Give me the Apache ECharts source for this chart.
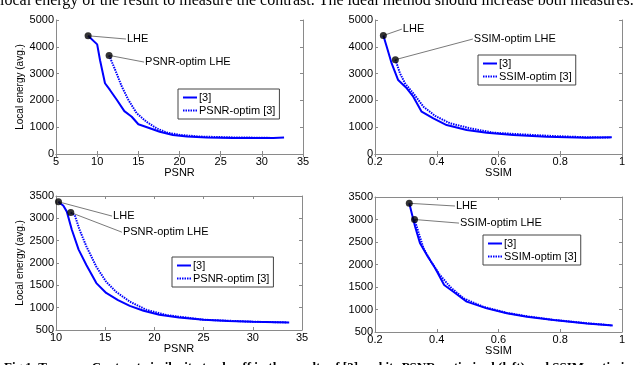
<!DOCTYPE html>
<html>
<head>
<meta charset="utf-8">
<script src="https://cdn.jsdelivr.net/npm/echarts@6/dist/echarts.min.js"></script>
<style>
  html, body { margin: 0; padding: 0; background: #fff; }
  #chart { width: 640px; height: 365px; }
</style>
</head>
<body>
<div id="chart"></div>
<script>
// top-left: PSNR vs local energy (image set 1)
const tlPsnr = [8.9, 10.0, 10.35, 10.95, 11.55, 12.4, 13.3, 14.2, 15.0, 16.4, 17.6, 19.2, 20.9, 23.3, 26.5, 31.4, 32.7]
const tlEnergy = [4410, 4090, 3500, 2640, 2390, 2015, 1600, 1390, 1110, 960, 830, 710, 650, 620, 600, 600, 615]
const tlOptPsnr = [11.45, 12.2, 13.0, 13.8, 14.8, 16.0, 17.2, 18.45, 20.1, 22.5, 26.5, 31.4]
const tlOptEnergy = [3680, 3130, 2510, 2015, 1520, 1200, 960, 800, 710, 650, 620, 600]

// top-right: SSIM vs local energy (image set 1)
const trSsim = [0.227, 0.238, 0.254, 0.275, 0.303, 0.324, 0.351, 0.389, 0.432, 0.497, 0.562, 0.648, 0.756, 0.886, 0.967]
const trEnergy = [4420, 4000, 3380, 2760, 2450, 2140, 1580, 1330, 1080, 895, 795, 710, 645, 610, 625]
const trOptSsim = [0.266, 0.281, 0.297, 0.324, 0.357, 0.395, 0.443, 0.508, 0.583, 0.67, 0.778, 0.886, 0.962]
const trOptEnergy = [3520, 3010, 2640, 2265, 1765, 1420, 1145, 960, 795, 735, 670, 625, 615]

// bottom-left: PSNR vs local energy (image set 2)
const blPsnr = [10.25, 10.75, 11.1, 11.6, 12.3, 13.1, 14.1, 15.1, 16.3, 17.5, 18.9, 20.5, 22.5, 25.0, 27.5, 30.0, 33.7]
const blEnergy = [3370, 3280, 3150, 2750, 2300, 1950, 1550, 1330, 1170, 1040, 930, 840, 780, 730, 700, 685, 670]
const blOptPsnr = [11.5, 11.9, 12.4, 13.1, 14.1, 15.1, 16.1, 17.5, 19.2, 21.2, 25.0, 30.0, 33.5]
const blOptEnergy = [3130, 3075, 2740, 2365, 1915, 1580, 1355, 1135, 950, 835, 730, 685, 670]

// bottom-right: SSIM vs local energy (image set 2)
const brSsim = [0.311, 0.319, 0.33, 0.346, 0.368, 0.395, 0.424, 0.454, 0.497, 0.562, 0.627, 0.692, 0.778, 0.886, 0.97]
const brEnergy = [3360, 3140, 2840, 2470, 2210, 1915, 1545, 1395, 1175, 1025, 915, 840, 765, 690, 645]
const brOptSsim = [0.328, 0.342, 0.357, 0.378, 0.41, 0.443, 0.486, 0.551, 0.627, 0.692, 0.778, 0.886, 0.965]
const brOptEnergy = [3000, 2690, 2360, 2100, 1770, 1505, 1250, 1060, 925, 850, 770, 695, 650]

// annotation anchors: [dotX, dotY, textX, textY]
const tlLheNote = [8.9, 4410, 13.5, 4290]
const tlOptNote = [11.45, 3680, 15.7, 3430]
const trLheNote = [0.227, 4420, 0.287, 4660]
const trOptNote = [0.266, 3520, 0.517, 4290]
const blLheNote = [10.25, 3370, 15.7, 3050]
const blOptNote = [11.5, 3130, 16.7, 2690]
const brLheNote = [0.311, 3360, 0.459, 3300]
const brOptNote = [0.328, 3000, 0.472, 2920]

const zip = (xs, ys) => xs.map((x, i) => [x, ys[i]])

const panels = [
  { grid: { left: 56, top: 20, width: 247, height: 134 }, x: [5, 35, 5], y: [0, 5000, 1000], xName: 'PSNR', yName: 'Local energy (avg.)',
    a: zip(tlPsnr, tlEnergy), b: zip(tlOptPsnr, tlOptEnergy), bName: 'PSNR-optim [3]',
    notes: [[tlLheNote, 'LHE'], [tlOptNote, 'PSNR-optim LHE']], legend: { left: 178, top: 89 } },
  { grid: { left: 375, top: 20, width: 247, height: 134 }, x: [0.2, 1, 0.2], y: [0, 5000, 1000], xName: 'SSIM', yName: '',
    a: zip(trSsim, trEnergy), b: zip(trOptSsim, trOptEnergy), bName: 'SSIM-optim [3]',
    notes: [[trLheNote, 'LHE'], [trOptNote, 'SSIM-optim LHE']], legend: { left: 478, top: 55 } },
  { grid: { left: 56, top: 196, width: 246, height: 134 }, x: [10, 35, 5], y: [500, 3500, 500], xName: 'PSNR', yName: 'Local energy (avg.)',
    a: zip(blPsnr, blEnergy), b: zip(blOptPsnr, blOptEnergy), bName: 'PSNR-optim [3]',
    notes: [[blLheNote, 'LHE'], [blOptNote, 'PSNR-optim LHE']], legend: { left: 172, top: 257 } },
  { grid: { left: 375, top: 197, width: 247, height: 135 }, x: [0.2, 1, 0.2], y: [500, 3500, 500], xName: 'SSIM', yName: '',
    a: zip(brSsim, brEnergy), b: zip(brOptSsim, brOptEnergy), bName: 'SSIM-optim [3]',
    notes: [[brLheNote, 'LHE'], [brOptNote, 'SSIM-optim LHE']], legend: { left: 483, top: 235 } }
]

const FONT = 'Liberation Sans, Arial, sans-serif'
const AXIS_COLOR = '#8a8a8a'
const BLUE = '#0000ff'
const plain = v => String(v)

const grids = [], xAxes = [], yAxes = [], series = [], legends = []

panels.forEach((p, i) => {
  grids.push(p.grid)
  const xBase = {
    type: 'value', gridIndex: i, min: p.x[0], max: p.x[1], interval: p.x[2],
    axisLine: { lineStyle: { color: AXIS_COLOR, width: 1 } },
    axisTick: { inside: true, length: 3, lineStyle: { color: AXIS_COLOR } },
    splitLine: { show: false }
  }
  const yBase = {
    type: 'value', gridIndex: i, min: p.y[0], max: p.y[1], interval: p.y[2],
    axisLine: { show: true, lineStyle: { color: AXIS_COLOR, width: 1 } },
    axisTick: { show: true, inside: true, length: 3, lineStyle: { color: AXIS_COLOR } },
    splitLine: { show: false }
  }
  xAxes.push(Object.assign({}, xBase, {
    position: 'bottom',
    name: p.xName, nameLocation: 'middle', nameGap: 13,
    nameTextStyle: { color: '#000', fontSize: 11, fontFamily: FONT },
    axisLabel: { color: '#000', fontSize: 11, fontFamily: FONT, margin: 2, formatter: plain, showMinLabel: true, showMaxLabel: true }
  }))
  xAxes.push(Object.assign({}, xBase, { position: 'top', axisLabel: { show: false } }))
  yAxes.push(Object.assign({}, yBase, {
    position: 'left',
    name: p.yName, nameLocation: 'middle', nameGap: 23,
    nameTextStyle: { color: '#000', fontSize: 10, fontFamily: FONT },
    axisLabel: { color: '#000', fontSize: 11, fontFamily: FONT, margin: 2, formatter: plain, showMinLabel: true, showMaxLabel: true }
  }))
  yAxes.push(Object.assign({}, yBase, { position: 'right', axisLabel: { show: false } }))

  const ax = { xAxisIndex: 2 * i, yAxisIndex: 2 * i }
  series.push(Object.assign({
    name: '[3]', type: 'line', data: p.a, symbol: 'none', silent: true,
    lineStyle: { color: BLUE, width: 2 }, itemStyle: { color: BLUE }, z: 3
  }, ax))
  series.push(Object.assign({
    name: p.bName, type: 'line', data: p.b, symbol: 'none', silent: true,
    lineStyle: { color: BLUE, width: 2, type: [1.5, 1] }, itemStyle: { color: BLUE }, z: 3
  }, ax))
  p.notes.forEach(([n, text]) => {
    series.push(Object.assign({
      type: 'line', data: [[n[0], n[1]], [n[2], n[3]]], symbol: 'none', silent: true,
      lineStyle: { color: '#7a7a7a', width: 1 }, z: 4,
      endLabel: { show: true, formatter: text, color: '#000', fontSize: 11, fontFamily: FONT, distance: 1 }
    }, ax))
    series.push(Object.assign({
      type: 'scatter', data: [[n[0], n[1]]], symbol: 'circle', symbolSize: 7, silent: true,
      itemStyle: { color: '#000' }, z: 5
    }, ax))
  })
  legends.push({
    left: p.legend.left, top: p.legend.top, orient: 'vertical',
    data: ['[3]', p.bName],
    itemWidth: 14, itemHeight: 8, itemGap: 2,
    padding: [3, 4, 3, 4],
    backgroundColor: '#fff', borderColor: '#444', borderWidth: 1,
    selectedMode: false,
    itemStyle: { opacity: 0 },
    textStyle: { color: '#000', fontSize: 11, fontFamily: FONT, padding: [0, 0, 0, -3] }
  })
})

const chart = echarts.init(document.getElementById('chart'))
chart.setOption({
  animation: false,
  backgroundColor: '#fff',
  grid: grids,
  xAxis: xAxes,
  yAxis: yAxes,
  legend: legends,
  series: series,
  graphic: [
    { type: 'text', left: 0, top: -7, style: { text: 'local energy of the result to measure the contrast. The ideal method should increase both measures.', font: '16px "Liberation Serif", serif', fill: '#000' } },
    { type: 'text', left: 4, top: 361, style: { text: 'Fig 1. Top row: Contrast-similarity trade-off in the results of [3] and its PSNR-optimized (left) and SSIM-optimized (right) versions.', font: 'bold 13px "Liberation Serif", serif', fill: '#000' } }
  ]
})
</script>
</body>
</html>
